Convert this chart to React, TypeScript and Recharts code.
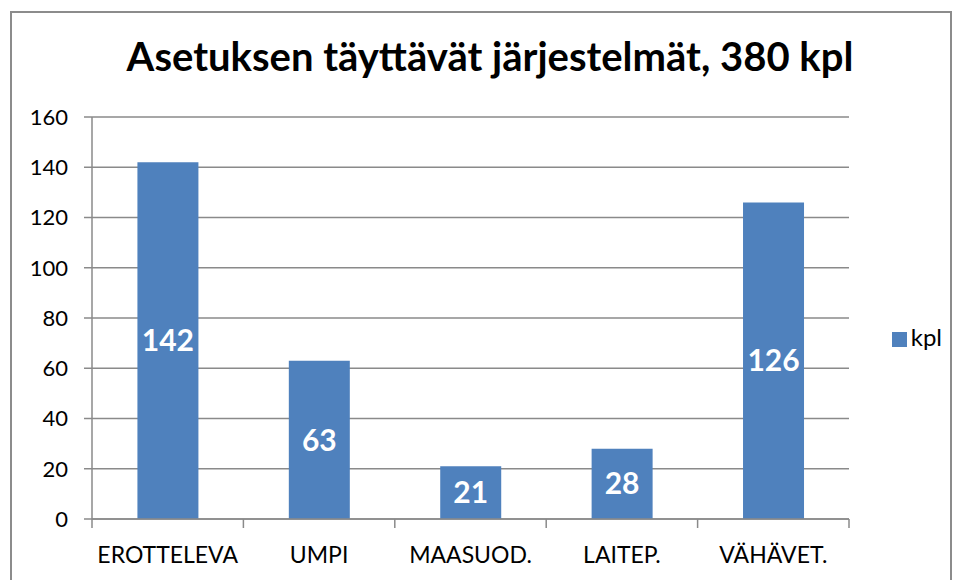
import { BarChart, Bar, XAxis, YAxis, CartesianGrid, LabelList, Legend } from "recharts";

const categories = ["EROTTELEVA", "UMPI", "MAASUOD.", "LAITEP.", "VÄHÄVET."];
const kpl = [142, 63, 21, 28, 126];
const yTicks = [0, 20, 40, 60, 80, 100, 120, 140, 160];
const boundaryTicks = [0, 1, 2, 3, 4, 5];

const data = categories.map((name, i) => ({ name, kpl: kpl[i], pos: i + 0.5 }));

const font = "Lato, 'Open Sans', sans-serif";

export default function App() {
  return (
    <div style={{ position: "absolute", left: 0, top: 0, width: 958, height: 580, overflow: "hidden", background: "#fff", fontFamily: font }}>
      <div style={{ position: "absolute", left: 10, top: 11, width: 938, height: 620, border: "2px solid #8c8c8c" }} />
      <div style={{ position: "absolute", left: 0, top: 32, width: 980, textAlign: "center", fontSize: 40, fontWeight: 700, color: "#000" }}>
        Asetuksen täyttävät järjestelmät, 380 kpl
      </div>
      <div style={{ position: "absolute", left: 0, top: 0 }}>
        <BarChart width={958} height={580} data={data} margin={{ top: 117, right: 39, bottom: 20, left: 32 }} barCategoryGap="30%">
          <CartesianGrid vertical={false} stroke="#8a8a8a" strokeWidth={1.5} />
          <XAxis
            xAxisId="a"
            type="number"
            dataKey="pos"
            domain={[0, 5]}
            ticks={boundaryTicks}
            interval={0}
            height={1}
            stroke="#8a8a8a"
            strokeWidth={1.5}
            tickSize={9}
            tick={{ fill: "transparent", fontSize: 1 }}
          />
          <XAxis
            xAxisId="b"
            dataKey="name"
            height={40}
            axisLine={false}
            tickLine={false}
            tick={{ fill: "#000", fontSize: 23, fontFamily: font }}
            tickMargin={21}
          />
          <YAxis
            width={60}
            domain={[0, 160]}
            ticks={yTicks}
            stroke="#8a8a8a"
            strokeWidth={1.5}
            tickSize={8}
            tick={{ fill: "#000", fontSize: 22, fontFamily: font }}
            tickMargin={16}
          />
          <Legend
            verticalAlign="middle"
            align="right"
            layout="horizontal"
            iconType="square"
            iconSize={15}
            wrapperStyle={{ left: 882, top: 322, width: 70, textAlign: "left", fontSize: 24, fontFamily: font }}
            formatter={(v) => <span style={{ color: "#000" }}>{v}</span>}
          />
          <Bar xAxisId="b" dataKey="kpl" fill="#4F81BD" isAnimationActive={false}>
            <LabelList dataKey="kpl" position="center" fill="#fff" fontSize={30} fontWeight={700} fontFamily={font} />
          </Bar>
        </BarChart>
      </div>
    </div>
  );
}
